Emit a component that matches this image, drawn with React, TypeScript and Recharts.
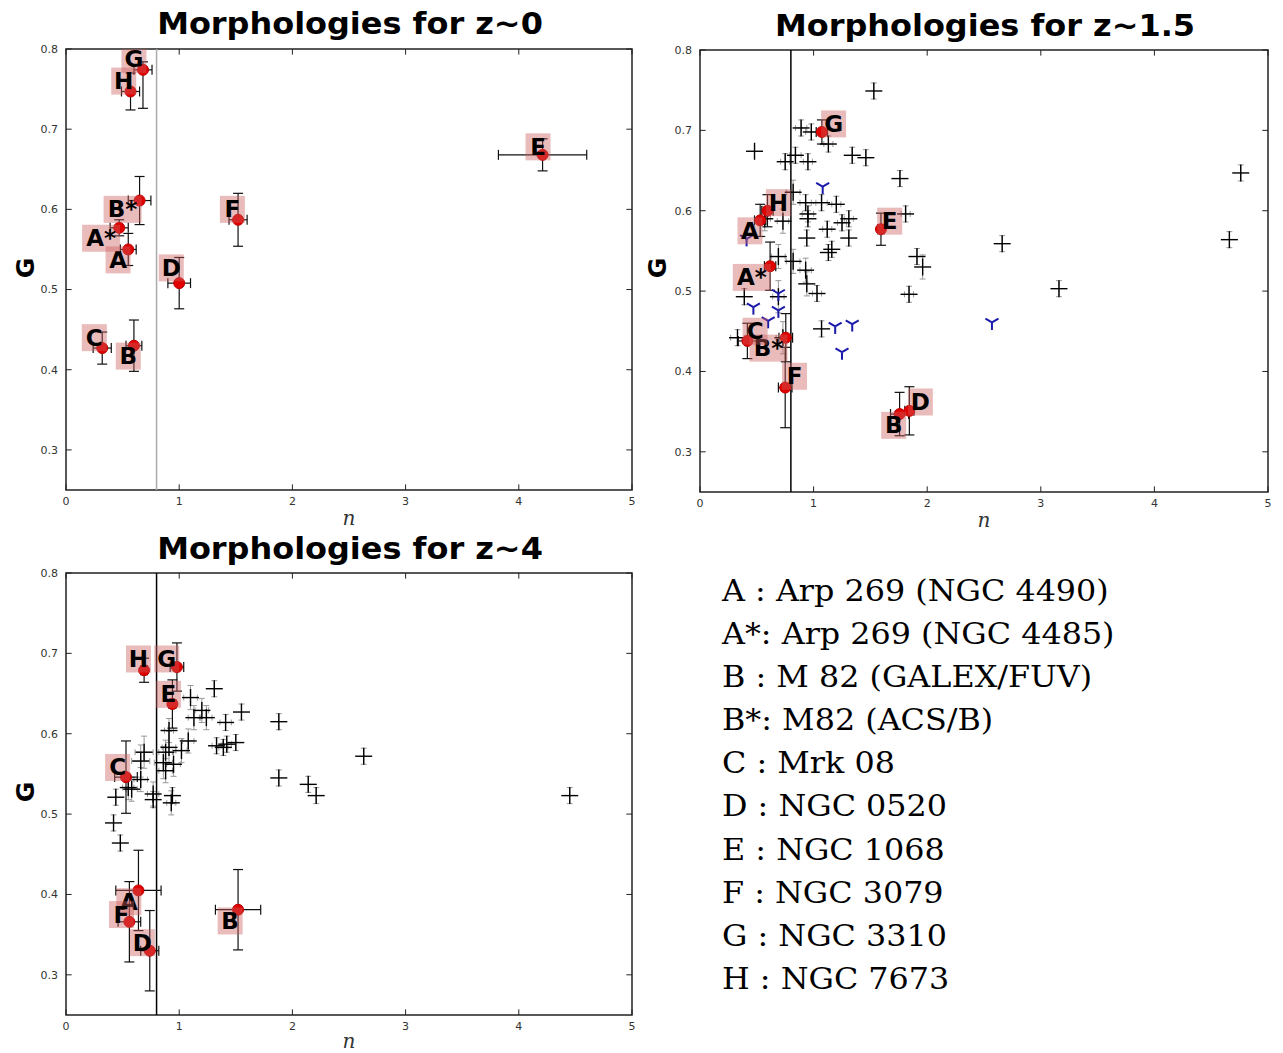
import React from 'react';
import { ScatterChart, Scatter, XAxis, YAxis, ErrorBar, ReferenceLine, ReferenceArea } from 'recharts';

// ---------- z~0 ----------
const z0Names = ['A', 'A*', 'B', 'B*', 'C', 'D', 'E', 'F', 'G', 'H'];
const z0N = [0.55, 0.47, 0.60, 0.65, 0.32, 1.00, 4.21, 1.52, 0.68, 0.57];
const z0G = [0.550, 0.577, 0.430, 0.611, 0.427, 0.508, 0.668, 0.587, 0.774, 0.747];
const z0NErr = [0.07, 0.08, 0.07, 0.1, 0.08, 0.1, 0.39, 0.08, 0.08, 0.08];
const z0GErr: (number | number[])[] = [0.02, 0.01, 0.032, 0.03, 0.02, 0.032, 0.02, 0.033, [0.048, 0.01], 0.023];
const z0LabelN = [0.46, 0.31, 0.55, 0.50, 0.25, 0.93, 4.17, 1.47, 0.60, 0.51];
const z0LabelG = [0.537, 0.564, 0.417, 0.600, 0.440, 0.527, 0.678, 0.600, 0.787, 0.760];

// ---------- z~1.5 ----------
const z15Names = ['A', 'A*', 'B', 'B*', 'C', 'D', 'E', 'F', 'G', 'H'];
const z15N = [0.53, 0.617, 1.757, 0.755, 0.417, 1.843, 1.593, 0.75, 1.073, 0.594];
const z15G = [0.588, 0.531, 0.347, 0.442, 0.438, 0.351, 0.577, 0.380, 0.698, 0.600];
const z15NErr = [0.05, 0.05, 0.08, 0.06, 0.08, 0.04, 0.03, 0.06, 0.05, 0.05];
const z15GErr = [0.02, 0.03, 0.027, 0.03, 0.022, 0.03, 0.02, 0.05, 0.015, 0.02];
const z15LabelN = [0.44, 0.456, 1.705, 0.603, 0.485, 1.94, 1.67, 0.832, 1.176, 0.69];
const z15LabelG = [0.575, 0.517, 0.333, 0.429, 0.450, 0.362, 0.587, 0.394, 0.708, 0.610];

const z15CrossN = [1.53, 0.89, 0.98, 1.13, 0.48, 0.75, 0.84, 0.95, 1.34, 1.46, 1.76, 4.76, 0.82, 0.93, 1.07, 1.20, 0.95, 0.95, 0.73, 1.12, 1.25, 1.31, 0.94, 1.31, 1.16, 1.13, 1.81, 2.66, 4.66, 1.91, 1.96, 0.69, 0.82, 0.93, 0.94, 1.03, 1.84, 3.16, 0.39, 0.69, 1.07, 0.33, 0.73, 0.57];
const z15CrossG = [0.749, 0.703, 0.698, 0.683, 0.674, 0.661, 0.669, 0.661, 0.669, 0.666, 0.640, 0.647, 0.623, 0.610, 0.610, 0.608, 0.596, 0.590, 0.587, 0.577, 0.585, 0.590, 0.566, 0.566, 0.552, 0.548, 0.596, 0.559, 0.564, 0.543, 0.530, 0.543, 0.537, 0.526, 0.509, 0.497, 0.496, 0.503, 0.493, 0.493, 0.453, 0.442, 0.442, 0.590];
const z15CrossNErr = [0, 0.05, 0.05, 0.04, 0, 0.04, 0.05, 0.04, 0, 0, 0, 0, 0.06, 0.05, 0.05, 0.04, 0.05, 0, 0.05, 0.04, 0.04, 0.04, 0, 0, 0, 0, 0.04, 0, 0, 0, 0, 0.06, 0.06, 0.05, 0, 0.04, 0.04, 0, 0, 0.05, 0, 0.06, 0.06, 0.05];
const z15CrossGErr = [0.01, 0.01, 0.01, 0.01, 0, 0.01, 0.01, 0.01, 0.01, 0.01, 0.01, 0.01, 0.015, 0.01, 0.01, 0.01, 0.01, 0.01, 0.015, 0.01, 0.01, 0.01, 0.01, 0.01, 0.01, 0.01, 0.01, 0.01, 0.01, 0.01, 0.015, 0.015, 0.015, 0.015, 0.015, 0.01, 0.01, 0.01, 0.01, 0.02, 0.01, 0.01, 0.02, 0.015];

const z15TriN = [1.08, 0.41, 0.47, 0.69, 0.69, 0.60, 1.19, 1.34, 1.25, 2.57];
const z15TriG = [0.630, 0.565, 0.480, 0.497, 0.476, 0.463, 0.456, 0.459, 0.424, 0.461];

// ---------- z~4 ----------
const z4Names = ['A', 'B', 'C', 'D', 'E', 'F', 'G', 'H'];
const z4N = [0.64, 1.52, 0.53, 0.74, 0.94, 0.56, 0.98, 0.69];
const z4G = [0.405, 0.381, 0.546, 0.330, 0.637, 0.366, 0.683, 0.679];
const z4NErr = [0.2, 0.2, 0.1, 0.08, 0.03, 0.1, 0.06, 0.03];
const z4GErr = [0.05, 0.05, 0.045, 0.05, 0.03, 0.05, 0.03, 0.015];
const z4LabelN = [0.555, 1.45, 0.456, 0.675, 0.905, 0.49, 0.89, 0.64];
const z4LabelG = [0.391, 0.367, 0.558, 0.340, 0.649, 0.375, 0.693, 0.693];

const z4CrossN = [1.31, 1.10, 1.20, 1.55, 1.13, 1.24, 1.41, 1.88, 2.63, 4.45, 1.33, 1.42, 1.50, 1.39, 1.08, 1.02, 0.91, 0.95, 0.86, 0.88, 0.66, 0.69, 0.91, 1.88, 2.14, 2.21, 0.44, 0.58, 0.66, 0.77, 0.77, 0.94, 0.93, 0.42, 0.48, 0.55, 0.88];
const z4CrossG = [0.656, 0.645, 0.629, 0.627, 0.620, 0.620, 0.614, 0.615, 0.572, 0.523, 0.585, 0.587, 0.589, 0.583, 0.591, 0.579, 0.583, 0.562, 0.564, 0.577, 0.566, 0.577, 0.604, 0.545, 0.537, 0.523, 0.521, 0.531, 0.543, 0.525, 0.518, 0.523, 0.514, 0.489, 0.464, 0.533, 0.554];
const z4CrossNErr = [0, 0.06, 0.06, 0, 0.05, 0.05, 0.05, 0, 0, 0, 0.04, 0.04, 0, 0.04, 0.05, 0.05, 0.06, 0.06, 0.08, 0.06, 0.08, 0.08, 0.04, 0, 0, 0, 0, 0.05, 0.06, 0.05, 0, 0, 0.04, 0, 0, 0.05, 0.06];
const z4CrossGErr = [0.01, 0.015, 0.015, 0.01, 0.015, 0.015, 0.01, 0.01, 0.01, 0.01, 0.01, 0.01, 0.01, 0.01, 0.015, 0.015, 0.02, 0.015, 0.02, 0.015, 0.02, 0.02, 0.015, 0.01, 0.01, 0.01, 0.01, 0.015, 0.015, 0.015, 0.01, 0.01, 0.015, 0.01, 0.01, 0.015, 0.015];

// ---------- legend ----------
const legendLines = [
  'A : Arp 269 (NGC 4490)',
  'A*: Arp 269 (NGC 4485)',
  'B : M 82 (GALEX/FUV)',
  'B*: M82 (ACS/B)',
  'C : Mrk 08',
  'D : NGC 0520',
  'E : NGC 1068',
  'F : NGC 3079',
  'G : NGC 3310',
  'H : NGC 7673',
];

const xTicks = [0, 1, 2, 3, 4, 5];
const yTicks = [0.3, 0.4, 0.5, 0.6, 0.7, 0.8];

type Row = { n: number; G: number; nErr?: number; gErr?: number | number[]; name?: string };

const buildRows = (names: string[] | null, n: number[], g: number[], ne?: number[], ge?: (number | number[])[]): Row[] =>
  n.map((v, i) => ({ n: v, G: g[i], nErr: ne ? ne[i] : undefined, gErr: ge ? ge[i] : undefined, name: names ? names[i] : undefined }));

const RedDot = (props: any) => {
  const { cx, cy } = props;
  if (cx == null || cy == null) return null;
  return <circle cx={cx} cy={cy} r={5.5} fill="#e00000" stroke="#c00000" strokeWidth={1} />;
};

const PlusShape = (props: any) => {
  const { cx, cy } = props;
  if (cx == null || cy == null) return null;
  const h = 8.5;
  return (
    <g stroke="#000" strokeWidth={1.4}>
      <line x1={cx - h} y1={cy} x2={cx + h} y2={cy} />
      <line x1={cx} y1={cy - h} x2={cx} y2={cy + h} />
    </g>
  );
};

const TriShape = (props: any) => {
  const { cx, cy } = props;
  if (cx == null || cy == null) return null;
  const r = 7.5;
  return (
    <g stroke="#1a1aaa" strokeWidth={2} fill="none">
      <line x1={cx} y1={cy} x2={cx} y2={cy + r} />
      <line x1={cx} y1={cy} x2={cx - 0.866 * r} y2={cy - 0.5 * r} />
      <line x1={cx} y1={cy} x2={cx + 0.866 * r} y2={cy - 0.5 * r} />
    </g>
  );
};

const LabelShape = (props: any) => {
  const { cx, cy, payload } = props;
  if (cx == null || cy == null) return null;
  const name: string = payload.name;
  const w = name.length > 1 ? 38 : 25;
  const h = 27;
  return (
    <g>
      <rect x={cx - w / 2} y={cy - h / 2} width={w} height={h} fill="rgb(205,92,92)" fillOpacity={0.42} />
      <text
        x={cx}
        y={cy + 8}
        textAnchor="middle"
        fontFamily="DejaVu Sans"
        fontWeight="bold"
        fontSize={23}
        fill="#000"
      >
        {name}
      </text>
    </g>
  );
};

type PanelProps = {
  left: number;
  top: number;
  margin: { top: number; right: number; bottom: number; left: number };
  points: Row[];
  labels: Row[];
  crosses?: Row[];
  tris?: Row[];
  lineColor: string;
};

const W = 640;
const H = 525;
const AX_H = 20;
const AX_W = 30;

function Panel({ left, top, margin, points, labels, crosses, tris, lineColor }: PanelProps) {
  const tickStyle = { fontSize: 11, fill: '#333', fontFamily: 'DejaVu Sans' };
  const m = { top: margin.top, right: margin.right, bottom: margin.bottom - AX_H, left: margin.left - AX_W };
  return (
    <div style={{ position: 'absolute', left, top, width: W, height: H }}>
      <ScatterChart width={W} height={H} margin={m}>
        <XAxis
          type="number"
          dataKey="n"
          domain={[0, 5]}
          ticks={xTicks}
          height={AX_H}
          tickSize={4}
          tickMargin={3}
          axisLine={false}
          tick={tickStyle}
          tickLine={false}
          allowDataOverflow
        />
        <YAxis
          type="number"
          dataKey="G"
          domain={[0.25, 0.8]}
          ticks={yTicks}
          width={AX_W}
          tickSize={4}
          tickMargin={4}
          axisLine={false}
          tick={tickStyle}
          tickLine={false}
          tickFormatter={(v: number) => v.toFixed(1)}
          allowDataOverflow
        />
        <ReferenceArea x1={0} x2={5} y1={0.25} y2={0.8} fill="none" stroke="#222" strokeWidth={1.5} ifOverflow="visible" />
        {xTicks.map((t) => (
          <ReferenceLine key={'xb' + t} segment={[{ x: t, y: 0.25 }, { x: t, y: 0.257 }]} stroke="#222" strokeWidth={1} />
        ))}
        {xTicks.map((t) => (
          <ReferenceLine key={'xt' + t} segment={[{ x: t, y: 0.8 }, { x: t, y: 0.793 }]} stroke="#222" strokeWidth={1} />
        ))}
        {yTicks.map((t) => (
          <ReferenceLine key={'yl' + t} segment={[{ x: 0, y: t }, { x: 0.05, y: t }]} stroke="#222" strokeWidth={1} />
        ))}
        {yTicks.map((t) => (
          <ReferenceLine key={'yr' + t} segment={[{ x: 5, y: t }, { x: 4.95, y: t }]} stroke="#222" strokeWidth={1} />
        ))}
        {crosses && (
          <Scatter data={crosses} shape={PlusShape} isAnimationActive={false}>
            <ErrorBar dataKey="gErr" direction="y" width={3} stroke="#999" strokeWidth={1} />
            <ErrorBar dataKey="nErr" direction="x" width={3} stroke="#999" strokeWidth={1} />
          </Scatter>
        )}
        {tris && <Scatter data={tris} shape={TriShape} isAnimationActive={false} />}
        <ReferenceLine x={0.8} stroke={lineColor} strokeWidth={1.5} />
        <Scatter data={points} shape={RedDot} isAnimationActive={false}>
          <ErrorBar dataKey="gErr" direction="y" width={5} stroke="#111" strokeWidth={1.2} />
          <ErrorBar dataKey="nErr" direction="x" width={5} stroke="#111" strokeWidth={1.2} />
        </Scatter>
        <Scatter data={labels} shape={LabelShape} isAnimationActive={false} />
      </ScatterChart>
    </div>
  );
}

const titleStyle: React.CSSProperties = {
  position: 'absolute',
  fontFamily: 'DejaVu Sans',
  fontWeight: 'bold',
  fontSize: 31,
  color: '#000',
  whiteSpace: 'nowrap',
  transform: 'translate(-50%, -50%) scaleX(1.03)',
};
const gStyle: React.CSSProperties = {
  position: 'absolute',
  fontFamily: 'DejaVu Sans',
  fontWeight: 'bold',
  fontSize: 25,
  color: '#000',
  transform: 'translate(-50%, -50%) rotate(-90deg)',
};
const nStyle: React.CSSProperties = {
  position: 'absolute',
  fontFamily: 'DejaVu Serif',
  fontStyle: 'italic',
  fontSize: 20,
  color: '#333',
  transform: 'translate(-50%, -50%)',
};

export default function App() {
  const p0 = buildRows(z0Names, z0N, z0G, z0NErr, z0GErr);
  const l0 = buildRows(z0Names, z0LabelN, z0LabelG);
  const p15 = buildRows(z15Names, z15N, z15G, z15NErr, z15GErr);
  const l15 = buildRows(z15Names, z15LabelN, z15LabelG);
  const c15 = buildRows(null, z15CrossN, z15CrossG, z15CrossNErr, z15CrossGErr);
  const t15 = buildRows(null, z15TriN, z15TriG);
  const p4 = buildRows(z4Names, z4N, z4G, z4NErr, z4GErr);
  const l4 = buildRows(z4Names, z4LabelN, z4LabelG);
  const c4 = buildRows(null, z4CrossN, z4CrossG, z4CrossNErr, z4CrossGErr);

  return (
    <div style={{ position: 'absolute', left: 0, top: 0, width: 1283, height: 1053, background: '#fff', overflow: 'hidden' }}>
      <Panel left={0} top={0} margin={{ top: 49, left: 66, right: 8, bottom: 35 }} points={p0} labels={l0} lineColor="#aaa" />
      <Panel left={640} top={0} margin={{ top: 50, left: 60, right: 12, bottom: 33 }} points={p15} labels={l15} crosses={c15} tris={t15} lineColor="#000" />
      <Panel left={0} top={528} margin={{ top: 45, left: 66, right: 8, bottom: 38 }} points={p4} labels={l4} crosses={c4} lineColor="#000" />

      <div style={{ ...titleStyle, left: 350, top: 23 }}>Morphologies for z~0</div>
      <div style={{ ...titleStyle, left: 985, top: 25 }}>Morphologies for z~1.5</div>
      <div style={{ ...titleStyle, left: 350, top: 548 }}>Morphologies for z~4</div>

      <div style={{ ...gStyle, left: 25, top: 268 }}>G</div>
      <div style={{ ...gStyle, left: 657, top: 268 }}>G</div>
      <div style={{ ...gStyle, left: 25, top: 792 }}>G</div>

      <div style={{ ...nStyle, left: 349, top: 518 }}>n</div>
      <div style={{ ...nStyle, left: 984, top: 520 }}>n</div>
      <div style={{ ...nStyle, left: 349, top: 1041 }}>n</div>

      <div style={{ position: 'absolute', left: 722, top: 569, fontFamily: 'DejaVu Serif', fontSize: 30, color: '#000', lineHeight: '43.1px', whiteSpace: 'pre', transform: 'scaleX(1.06)', transformOrigin: '0 0' }}>
        {legendLines.map((t) => (
          <div key={t}>{t}</div>
        ))}
      </div>
    </div>
  );
}
